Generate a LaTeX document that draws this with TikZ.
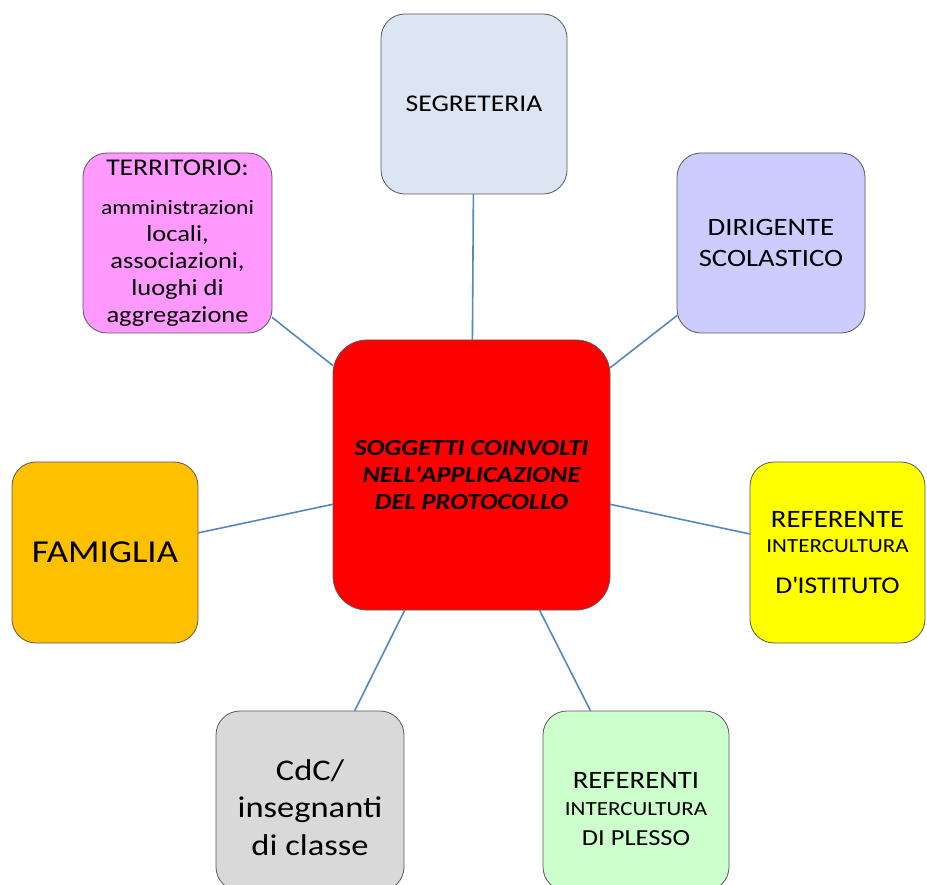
\documentclass[tikz,border=0pt]{standalone}
\usepackage{fontspec}
\setmainfont{Carlito}[FakeStretch=1.15]
\usepackage{tikz}
\usetikzlibrary{positioning}

\definecolor{linkblue}{RGB}{84,135,192}
\definecolor{segfill}{RGB}{220,230,242}
\definecolor{dirfill}{RGB}{204,204,255}
\definecolor{terfill}{RGB}{255,153,255}
\definecolor{famfill}{RGB}{255,192,0}
\definecolor{reffill}{RGB}{255,255,0}
\definecolor{cdcfill}{RGB}{217,217,217}
\definecolor{plefill}{RGB}{204,255,204}

\newcommand{\fsz}[2]{\fontsize{#1}{#2}\selectfont}

\tikzset{
  box/.style={
    rectangle, draw=black!65, line width=0.8pt,
    rounded corners=24pt, inner sep=0pt, outer sep=0pt,
    minimum width=186pt, minimum height=180pt,
    align=center
  },
  centrebox/.style={
    box, rounded corners=34pt,
    minimum width=277pt, minimum height=270pt
  },
  link/.style={draw=linkblue, line width=1.6pt}
}

\begin{document}
\begin{tikzpicture}[x=1pt, y=-1pt]

\useasboundingbox (0,0) rectangle (927,885);

% centre
\node[centrebox, fill=red, font=\fsz{23}{27}\bfseries\itshape] (centre) at (471.5,475)
  {SOGGETTI COINVOLTI\\
   NELL\textquotesingle APPLICAZIONE\\ DEL PROTOCOLLO};

% around the centre
\node[box, fill=segfill, font=\fsz{24}{29}] (segreteria) at (474,104)
  {SEGRETERIA};

\node[box, fill=dirfill, minimum width=188pt, font=\fsz{25}{31}] (dirigente) at (771,243)
  {DIRIGENTE\\ SCOLASTICO};

\node[box, fill=terfill, minimum width=189pt, font=\fsz{23}{27}] (territorio) at (177.5,243)
  {\fsz{24}{27}TERRITORIO:\\[12pt]
   \fsz{20.5}{27}amministrazioni\\
   locali,\\ associazioni,\\ luoghi di\\ aggregazione};

\node[box, fill=famfill, minimum height=181pt, font=\fsz{32}{38}] (famiglia) at (105,552.5)
  {FAMIGLIA};

\node[box, fill=reffill, minimum width=175pt, minimum height=181pt, font=\fsz{25}{25}] (referente) at (837.5,552.5)
  {REFERENTE\\
   \fsz{20}{25}INTERCULTURA\\[16pt]
   \fsz{24}{25}D\textquotesingle ISTITUTO};

\node[box, fill=cdcfill, minimum width=188pt, font=\fsz{30}{37.5}] (cdc) at (310,801)
  {\rule{0pt}{34pt}CdC/\\ insegnanti\\ di classe};

\node[box, fill=plefill, font=\fsz{25}{27}] (plesso) at (636,801)
  {\rule{0pt}{32pt}REFERENTI\\
   \fsz{20}{27}INTERCULTURA\\[3pt]
   \fsz{23}{27}DI PLESSO};

% connectors
\draw[link] (centre) -- (segreteria);
\draw[link] (centre) -- (dirigente);
\draw[link] (centre) -- (territorio);
\draw[link] (centre) -- (famiglia);
\draw[link] (centre) -- (referente);
\draw[link] (centre) -- (cdc);
\draw[link] (centre) -- (plesso);

\end{tikzpicture}
\end{document}
